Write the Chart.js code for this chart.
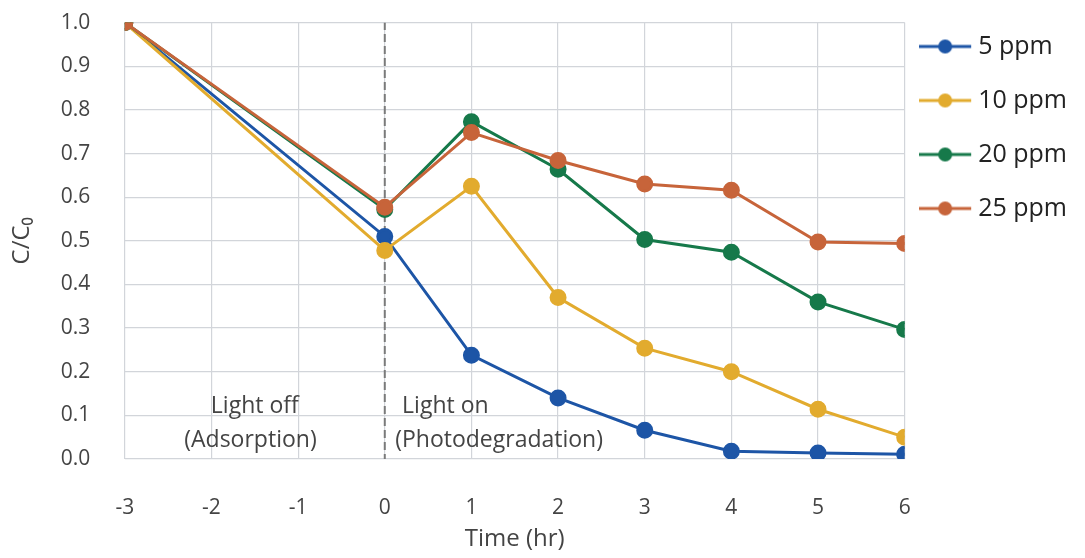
<!DOCTYPE html>
<html>
<head>
    <title>C/C0 vs Time</title>
    <script src="https://cdn.jsdelivr.net/npm/chart.js@4.4.1/dist/chart.umd.min.js"></script>
    <style>
        body { margin: 0; background: #fff; }
        .chart-container { position: relative; width: 1085px; height: 558px; }
    </style>
</head>
<body>
    <div class="chart-container">
        <canvas id="myChart"></canvas>
    </div>

    <script>
        // time points (hr)
        const times = [-3, 0, 1, 2, 3, 4, 5, 6];

        const ppm5  = [1.0, 0.51, 0.238, 0.14, 0.066, 0.018, 0.014, 0.011];
        const ppm10 = [1.0, 0.478, 0.625, 0.37, 0.254, 0.2, 0.114, 0.05];
        const ppm20 = [1.0, 0.572, 0.773, 0.664, 0.503, 0.474, 0.36, 0.297];
        const ppm25 = [1.0, 0.577, 0.748, 0.684, 0.63, 0.616, 0.497, 0.494];

        const seriesNames = ['5 ppm', '10 ppm', '20 ppm', '25 ppm'];
        const seriesColors = ['#1d55a6', '#e2ab2e', '#16794a', '#c7643a'];

        const FONT = '"Open Sans", Lato, sans-serif';
        const TEXT = '#444';

        function toPoints(vals) {
            return vals.map((v, i) => ({ x: times[i], y: v }));
        }

        // line+dot swatch for the legend (drawn left of the box centre)
        function swatch(color) {
            const c = document.createElement('canvas');
            c.width = 61; c.height = 16;
            const g = c.getContext('2d');
            g.strokeStyle = color;
            g.lineWidth = 3;
            g.beginPath(); g.moveTo(0, 8); g.lineTo(52, 8); g.stroke();
            g.fillStyle = color;
            g.beginPath(); g.arc(26, 8, 7, 0, Math.PI * 2); g.fill();
            return c;
        }

        const allSeries = [ppm5, ppm10, ppm20, ppm25];
        const datasets = allSeries.map((vals, i) => ({
            label: seriesNames[i],
            data: toPoints(vals),
            borderColor: seriesColors[i],
            backgroundColor: seriesColors[i],
            borderWidth: 3,
            pointRadius: 7,
            pointHoverRadius: 7,
            tension: 0,
            order: 4 - i
        }));

        // dashed divider at t = 0
        datasets.push({
            label: 'divider',
            data: [{ x: 0, y: -0.007 }, { x: 0, y: 1.0 }],
            borderColor: '#7a7a7a',
            borderWidth: 2,
            borderDash: [8, 4],
            pointRadius: 0,
            order: 10
        });

        const phaseLabels = {
            id: 'phaseLabels',
            afterDatasetsDraw(chart) {
                const { ctx, scales: { x, y } } = chart;
                ctx.save();
                ctx.font = '23px ' + FONT;
                ctx.fillStyle = TEXT;
                ctx.textBaseline = 'middle';
                ctx.textAlign = 'center';
                ctx.fillText('Light off', x.getPixelForValue(-1.5), y.getPixelForValue(0.12));
                ctx.fillText('(Adsorption)', x.getPixelForValue(-1.55), y.getPixelForValue(0.043));
                ctx.textAlign = 'left';
                ctx.fillText('Light on', x.getPixelForValue(0.2), y.getPixelForValue(0.12));
                ctx.fillText('(Photodegradation)', x.getPixelForValue(0.12), y.getPixelForValue(0.043));
                ctx.restore();
            }
        };

        const ctx = document.getElementById('myChart').getContext('2d');
        const chart = new Chart(ctx, {
            type: 'line',
            data: { datasets: datasets },
            plugins: [phaseLabels],
            options: {
                responsive: true,
                maintainAspectRatio: false,
                animation: false,
                layout: { padding: { top: 5, left: 8, right: 8, bottom: 4 } },
                scales: {
                    x: {
                        type: 'linear',
                        min: -3,
                        max: 6,
                        ticks: {
                            stepSize: 1,
                            padding: 36,
                            color: TEXT,
                            font: { family: FONT, size: 21 }
                        },
                        grid: { color: '#d2d5da', lineWidth: 1.2, drawTicks: false },
                        border: { display: false },
                        title: {
                            display: true,
                            text: 'Time (hr)',
                            color: TEXT,
                            font: { family: FONT, size: 24 },
                            padding: { top: -31, bottom: 0 }
                        }
                    },
                    y: {
                        min: 0,
                        max: 1,
                        ticks: {
                            stepSize: 0.1,
                            padding: 10,
                            color: TEXT,
                            font: { family: FONT, size: 21 },
                            // trailing em + thin space keeps the labels off the grid
                            callback: v => v.toFixed(1) + '\u2003\u2009'
                        },
                        grid: { color: '#d2d5da', lineWidth: 1.2, drawTicks: false },
                        border: { display: false },
                        title: {
                            display: true,
                            text: 'C/C₀',
                            color: TEXT,
                            font: { family: FONT, size: 24 },
                            padding: { top: 0, bottom: 14 }
                        }
                    }
                },
                plugins: {
                    tooltip: { enabled: false },
                    legend: {
                        position: 'right',
                        align: 'start',
                        labels: {
                            usePointStyle: true,
                            pointStyleWidth: 32,
                            padding: 29,
                            color: '#222',
                            font: { family: FONT, size: 25 },
                            generateLabels: function(chart) {
                                return seriesNames.map((name, i) => ({
                                    text: name,
                                    fillStyle: seriesColors[i],
                                    strokeStyle: seriesColors[i],
                                    pointStyle: swatch(seriesColors[i]),
                                    fontColor: '#222',
                                    lineWidth: 0,
                                    hidden: false,
                                    datasetIndex: i
                                }));
                            }
                        }
                    }
                }
            }
        });
    </script>
</body>
</html>
